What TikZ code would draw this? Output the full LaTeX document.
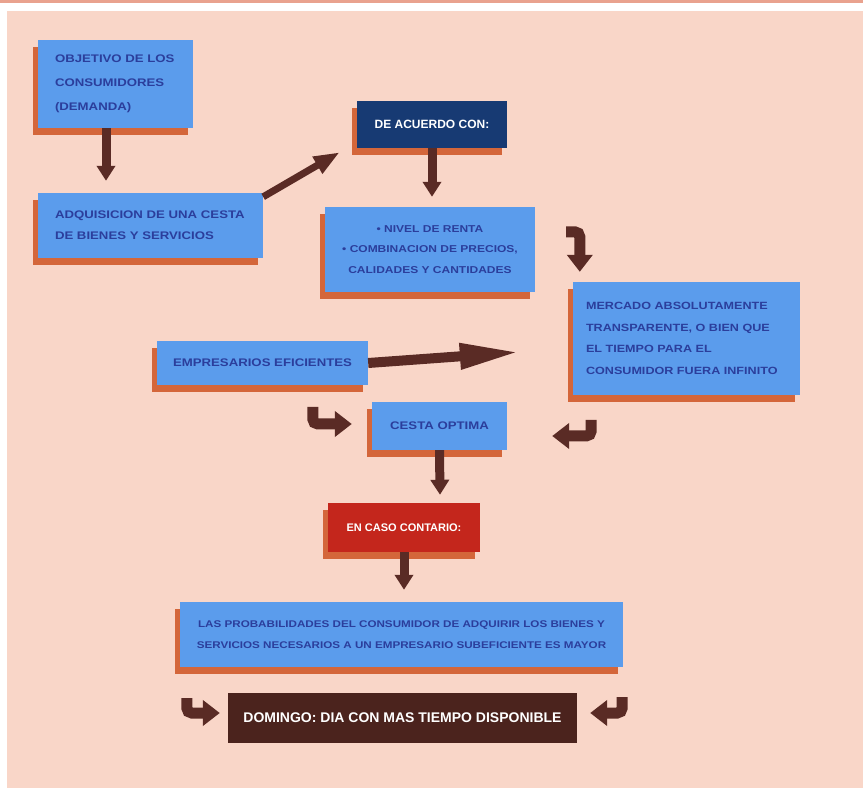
\documentclass[tikz,border=0pt]{standalone}
\usepackage{fontspec}
\setmainfont{Liberation Sans}
\newfontfamily\boxfont[FakeStretch=1.2]{Liberation Sans}
\usetikzlibrary{arrows.meta,positioning,shadows}
\definecolor{bgpink}{HTML}{F9D6C8}
\definecolor{bandsalmon}{HTML}{E9A28E}
\definecolor{boxblue}{HTML}{5B9CEC}
\definecolor{boxtext}{HTML}{2B3E9C}
\definecolor{shadowred}{HTML}{D4663A}
\definecolor{navybox}{HTML}{173A73}
\definecolor{redbox}{HTML}{C4261C}
\definecolor{brownbox}{HTML}{4B231D}
\definecolor{arrowbrown}{HTML}{5A2B25}
\tikzset{
    infobox/.style={
        rectangle,
        fill=boxblue,
        text=boxtext,
        font=\boxfont\bfseries\fontsize{11}{21}\selectfont,
        inner xsep=17pt,
        inner ysep=0pt,
        drop shadow={shadow xshift=-5pt,shadow yshift=-7pt,fill=shadowred,opacity=1},
    },
    darkbox/.style={
        rectangle,
        fill=navybox,
        text=white,
        font=\bfseries\fontsize{12}{14}\selectfont,
        inner sep=0pt,
        drop shadow={shadow xshift=-5pt,shadow yshift=-7pt,fill=shadowred,opacity=1},
    },
    alertbox/.style={
        darkbox,
        fill=redbox,
        font=\bfseries\fontsize{11}{13}\selectfont,
    },
    endbox/.style={
        rectangle,
        fill=brownbox,
        text=white,
        font=\bfseries\fontsize{14}{16}\selectfont,
        inner sep=0pt,
    },
    flow/.style={
        draw=arrowbrown,
        line width=9pt,
        -{Triangle[length=15pt,width=18pt]},
    },
    hook/.style={
        draw=arrowbrown,
        line width=11pt,
        rounded corners=5pt,
        -{Triangle[length=17pt,width=25pt]},
    },
}
\begin{document}
\begin{tikzpicture}[x=1pt,y=-1pt]
    \useasboundingbox (0,0) rectangle (863,794);
    \fill[white] (0,0) rectangle (863,794);
    \fill[bandsalmon] (0,0) rectangle (863,3);
    \fill[bgpink] (7,11) rectangle (863,788);

    \node [infobox, align=left, text width=121pt, minimum height=88pt, font=\boxfont\bfseries\fontsize{11}{24}\selectfont] (obj) at (115.5,84) {OBJETIVO DE LOS\\CONSUMIDORES\\(DEMANDA)};
    \node [infobox, align=left, text width=191pt, minimum height=65pt] (adq) at (150.5,225.5) {ADQUISICION DE UNA CESTA\\DE BIENES Y SERVICIOS};
    \node [darkbox, minimum width=150pt, minimum height=47pt] (acuerdo) at (432,124.5) {DE ACUERDO CON:};
    \node [infobox, align=center, inner xsep=5pt, minimum width=210pt, minimum height=85pt, font=\boxfont\bfseries\fontsize{10}{20.5}\selectfont] (renta) at (430,249.5) {• NIVEL DE RENTA\\• COMBINACION DE PRECIOS,\\CALIDADES Y CANTIDADES};
    \node [infobox, align=left, inner xsep=13pt, text width=201pt, minimum height=113pt, font=\boxfont\bfseries\fontsize{10.5}{21.5}\selectfont] (mercado) at (686.5,338.5) {MERCADO ABSOLUTAMENTE\\TRANSPARENTE, O BIEN QUE\\EL TIEMPO PARA EL\\CONSUMIDOR FUERA INFINITO};
    \node [infobox, inner xsep=5pt, minimum width=211pt, minimum height=44pt] (empres) at (262.5,363) {EMPRESARIOS EFICIENTES};
    \node [infobox, inner xsep=5pt, minimum width=135pt, minimum height=48pt] (cesta) at (439.5,426) {CESTA OPTIMA};
    \node [alertbox, minimum width=152pt, minimum height=49pt] (contrario) at (404,527.5) {EN CASO CONTARIO:};
    \node [infobox, align=center, inner xsep=5pt, minimum width=443pt, minimum height=65pt, font=\boxfont\bfseries\fontsize{9.7}{21}\selectfont] (probab) at (401.5,634.5) {LAS PROBABILIDADES DEL CONSUMIDOR DE ADQUIRIR LOS BIENES Y\\SERVICIOS NECESARIOS A UN EMPRESARIO SUBEFICIENTE ES MAYOR};
    \node [endbox, minimum width=349pt, minimum height=50pt] (domingo) at (402.5,718) {DOMINGO: DIA CON MAS TIEMPO DISPONIBLE};

    \draw [flow] ([xshift=-9.5pt]obj.south) -- ([xshift=-44.5pt,yshift=12pt]adq.north);
    \draw [flow, line width=7pt, -{Triangle[length=26pt,width=18pt]}] ([yshift=-4pt]adq.north east) -- ([xshift=-17pt,yshift=-4pt]acuerdo.south west);
    \draw [flow] (acuerdo.south) -- ([xshift=2pt,yshift=10pt]renta.north);
    \draw [hook] ([xshift=31pt,yshift=-25pt]renta.north east) -| ([xshift=7pt,yshift=10pt]mercado.north west);
    \draw [flow, line width=10pt, -{Triangle[length=60pt,width=24pt]}] (empres.east) -- ([xshift=-53pt,yshift=-13.5pt]mercado.west);
    \draw [hook] ([xshift=-59pt,yshift=19pt]cesta.west) |- ([xshift=-20pt,yshift=2pt]cesta.west);
    \draw [hook] ([xshift=84pt,yshift=6pt]cesta.east) |- ([xshift=45pt,yshift=-10pt]cesta.east);
    \draw [flow] (cesta.south) -- ([xshift=36pt,yshift=8pt]contrario.north);
    \draw [flow] (contrario.south) -- ([xshift=2.5pt,yshift=12pt]probab.north);
    \draw [hook] ([xshift=-41pt,yshift=20pt]domingo.west) |- ([xshift=-8pt,yshift=5pt]domingo.west);
    \draw [hook] ([xshift=45pt,yshift=21pt]domingo.east) |- ([xshift=13pt,yshift=5pt]domingo.east);
\end{tikzpicture}
\end{document}
